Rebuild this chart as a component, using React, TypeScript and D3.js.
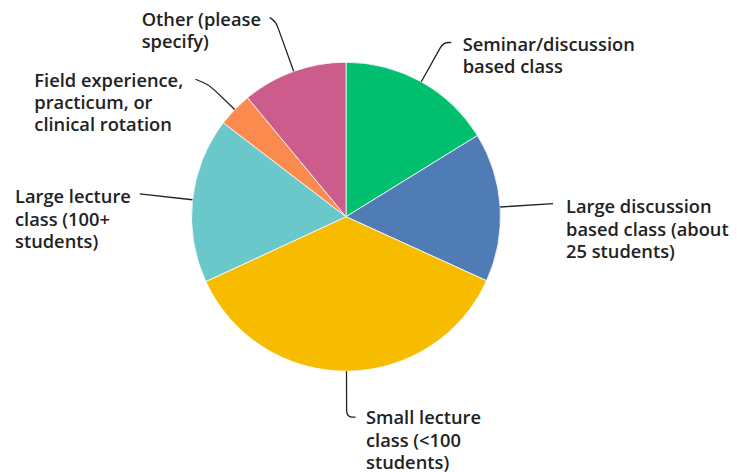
import React from "react";
import * as d3 from "d3";

const categories = [
  "Seminar/discussion based class",
  "Large discussion based class (about 25 students)",
  "Small lecture class (<100 students)",
  "Large lecture class (100+ students)",
  "Field experience, practicum, or clinical rotation",
  "Other (please specify)",
];
const values = [16.2, 15.6, 36.3, 17.3, 3.6, 11.0];
const labelLines = [
  ["Seminar/discussion", "based class"],
  ["Large discussion", "based class (about", "25 students)"],
  ["Small lecture", "class (<100", "students)"],
  ["Large lecture", "class (100+", "students)"],
  ["Field experience,", "practicum, or", "clinical rotation"],
  ["Other (please", "specify)"],
];
const colors = ["#00bf6f", "#507cb6", "#f7bb00", "#6bc8ca", "#fb8a4f", "#cc5c8b"];

// layout (not data)
const W = 737, H = 472;
const cx = 346, cy = 216.7, R = 154.5;
const leaderLayout = [
  { ext: 45, hook: [8, 0] },
  { ext: 53, hook: [0, 0] },
  { ext: 46, hook: [9, 0] },
  { ext: 53, hook: [0, 0] },
  { ext: 35, hook: [-14, -6] },
  { ext: 53, hook: [-6, -4] },
];
const textLayout = [
  { x: 462.7, y: 50.7 },
  { x: 566, y: 213.3 },
  { x: 366, y: 424.3 },
  { x: 15, y: 203.3 },
  { x: 34.3, y: 86.7 },
  { x: 141.7, y: 26 },
];
const LH = 22.3;

export default function App() {
  const data = categories.map((c, i) => ({ c, v: values[i], i }));
  const pie = d3.pie<any>().value((d: any) => d.v).sort(null).startAngle(0).endAngle(2 * Math.PI);
  const arcs = pie(data);
  const arc = d3.arc<any>().innerRadius(0).outerRadius(R);

  const leaders = arcs.map((a, i) => {
    const m = (a.startAngle + a.endAngle) / 2;
    const dx = Math.sin(m), dy = -Math.cos(m);
    const A = [cx + R * dx, cy + R * dy];
    const L = leaderLayout[i];
    const E = [cx + (R + L.ext) * dx, cy + (R + L.ext) * dy];
    const hl = Math.hypot(L.hook[0], L.hook[1]);
    const p = d3.path();
    p.moveTo(A[0], A[1]);
    if (hl === 0) {
      p.lineTo(E[0], E[1]);
    } else {
      const k = Math.min(7, hl * 0.8);
      const B = [E[0] - dx * k, E[1] - dy * k];
      const C = [E[0] + (L.hook[0] / hl) * k * 0.9, E[1] + (L.hook[1] / hl) * k * 0.9];
      p.lineTo(B[0], B[1]);
      p.quadraticCurveTo(E[0], E[1], C[0], C[1]);
      p.lineTo(E[0] + L.hook[0], E[1] + L.hook[1]);
    }
    return p.toString();
  });

  return (
    <svg width={W} height={H} style={{ position: "absolute", left: 0, top: 0, background: "#fff" }}>
      <g transform={`translate(${cx},${cy})`}>
        {arcs.map((a, i) => (
          <path key={i} d={arc(a) as string} fill={colors[i]} stroke="#ffffff" strokeWidth={0.8} />
        ))}
      </g>
      {leaders.map((d, i) => (
        <path key={i} d={d} fill="none" stroke="#222" strokeWidth={1.3} />
      ))}
      {labelLines.map((lines, i) => (
        <text key={i} fontFamily="'Open Sans', sans-serif" fontWeight={600} fontSize={18.3} fill="#222">
          {lines.map((l, j) => (
            <tspan key={j} x={textLayout[i].x} y={textLayout[i].y + j * LH}>{l}</tspan>
          ))}
        </text>
      ))}
    </svg>
  );
}
